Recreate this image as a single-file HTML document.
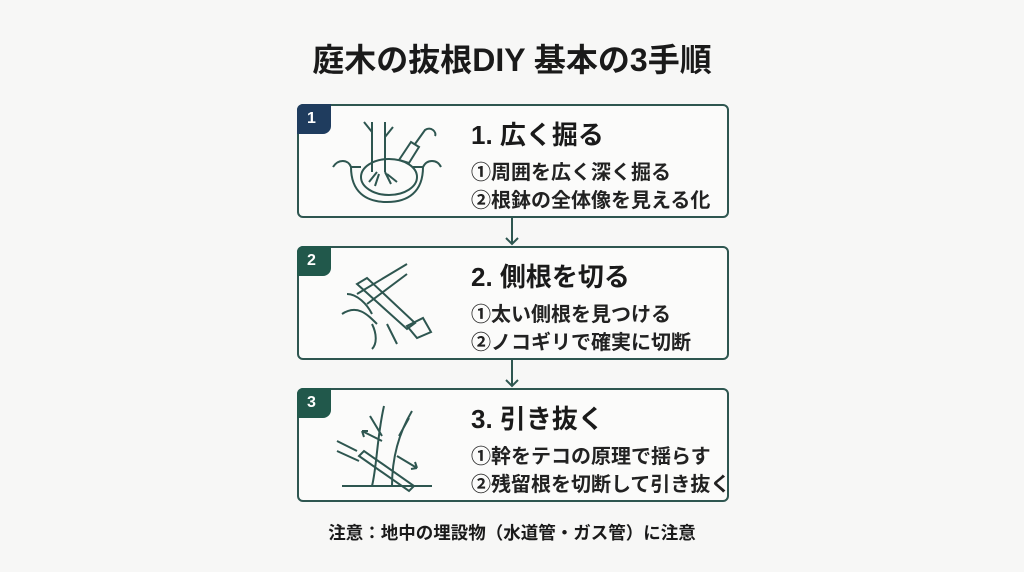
<!DOCTYPE html>
<html><head><meta charset="utf-8"><style>
body{margin:0;width:1024px;height:572px;background:#f7f7f6;font-family:"Liberation Sans","Noto Sans CJK JP",sans-serif;color:#1a1a1a;position:relative;overflow:hidden}
.t{position:absolute;left:0;width:1024px;text-align:center;font-weight:bold}
.box{position:absolute;left:297px;width:428px;height:110px;border:2px solid #2e5650;border-radius:6px;background:#fbfbfa}
.badge{position:absolute;left:-2px;top:-2px;width:34px;height:30px;color:#fff;font-weight:bold;font-size:16px;line-height:30px;padding-left:10px;box-sizing:border-box;border-radius:6px 0 8px 0}
.h{position:absolute;left:172px;top:9px;font-size:26px;font-weight:bold;white-space:nowrap}
.l{position:absolute;left:172px;font-size:20px;font-weight:bold;color:#222;white-space:nowrap}
svg.ic{position:absolute;left:28px;top:6px}
.arr{position:absolute;left:504px}
</style></head><body>
<div class="t" style="top:35px;font-size:32px">庭木の抜根DIY 基本の3手順</div>

<div class="box" style="top:104px"><div class="badge" style="background:#1f3c5e">1</div>
<svg class="ic" width="120" height="100" viewBox="0 0 120 100" fill="none" stroke="#2e5650" stroke-width="2">
<path d="M45 10v50M58 10v50M45 20l-8-10M58 25l8-10"/><path d="M6 55c5-8 15-8 18 0h10M86 55h10c4-8 14-8 18 0"/>
<path d="M24 55c0 25 15 35 36 35s36-10 36-35"/><ellipse cx="62" cy="65" rx="28" ry="18"/>
<path d="M50 60l-8 10M52 62l-4 12M58 60l6 12M60 62l10 8"/><path d="M72 48l12-18 8 5-10 16z M88 32l10-14c6-4 12 2 10 6"/></svg>
<div class="h">1. 広く掘る</div><div class="l" style="top:50px">①周囲を広く深く掘る</div><div class="l" style="top:78px">②根鉢の全体像を見える化</div></div>

<svg class="arr" style="top:216px" width="16" height="30"><path d="M8 0v28M2 22l6 6 6-6" stroke="#2e5650" stroke-width="2" fill="none"/></svg>

<div class="box" style="top:246px"><div class="badge" style="background:#21584b">2</div>
<svg class="ic" width="120" height="100" viewBox="0 0 120 100" fill="none" stroke="#2e5650" stroke-width="2">
<path d="M30 40l50-30M40 50l40-30M20 40c10 0 20 10 25 20M15 60c15-10 25 0 35 10M45 70c5 10 5 20 0 25M60 70l10 20"/>
<path d="M30 30l50 45 8-6-48-45z"/><path d="M80 72l10 12 14-6-8-14z"/></svg>
<div class="h">2. 側根を切る</div><div class="l" style="top:50px">①太い側根を見つける</div><div class="l" style="top:78px">②ノコギリで確実に切断</div></div>

<svg class="arr" style="top:358px" width="16" height="30"><path d="M8 0v28M2 22l6 6 6-6" stroke="#2e5650" stroke-width="2" fill="none"/></svg>

<div class="box" style="top:388px"><div class="badge" style="background:#21584b">3</div>
<svg class="ic" width="120" height="100" viewBox="0 0 120 100" fill="none" stroke="#2e5650" stroke-width="2">
<path d="M45 90c5-20 5-50 12-80M65 90c0-25 5-50 20-75M55 40l-12-20M72 40l10-18M15 90h90"/>
<path d="M32 60l50 35 5-5-50-35z"/><path d="M10 45l20 10M10 55l22 10"/><path d="M55 45l-20-10M35 35l2 6M35 35l6 0M70 60l20 12M90 72l-6 1M90 72l-2-6"/></svg>
<div class="h">3. 引き抜く</div><div class="l" style="top:50px">①幹をテコの原理で揺らす</div><div class="l" style="top:78px">②残留根を切断して引き抜く</div></div>

<div class="t" style="top:520px;font-size:17.5px">注意：地中の埋設物（水道管・ガス管）に注意</div>
</body></html>
